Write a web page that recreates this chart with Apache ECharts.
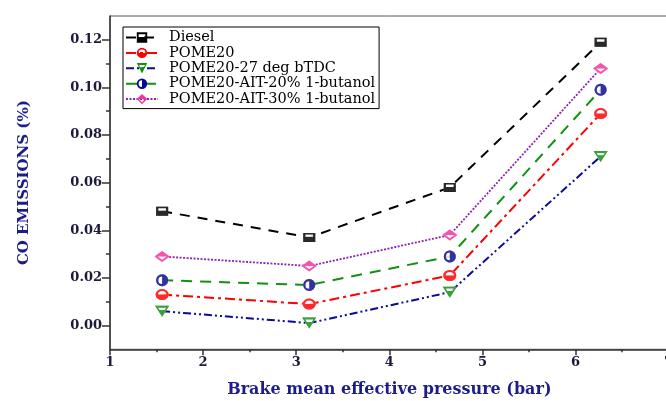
<!DOCTYPE html>
<html>
<head>
<meta charset="utf-8">
<script src="https://cdn.jsdelivr.net/npm/echarts@6/dist/echarts.min.js"></script>
<style>html,body{margin:0;padding:0;background:#fff;}#c{width:666px;height:401px;}</style>
</head>
<body>
<div id="c"></div>
<script>
// ---- data ----
const bmep = [1.56, 3.14, 4.65, 6.27];
const seriesNames = ['Diesel', 'POME20', 'POME20-27 deg bTDC', 'POME20-AIT-20% 1-butanol', 'POME20-AIT-30% 1-butanol'];
const diesel = [0.048, 0.037, 0.058, 0.119];
const pome20 = [0.013, 0.009, 0.021, 0.089];
const pome20_27deg = [0.006, 0.001, 0.014, 0.071];
const pome20_ait20 = [0.019, 0.017, 0.029, 0.099];
const pome20_ait30 = [0.029, 0.025, 0.038, 0.108];
const yMajorTicks = [0, 0.02, 0.04, 0.06, 0.08, 0.10, 0.12];
const yMinorTicks = [0.01, 0.03, 0.05, 0.07, 0.09, 0.11];
const xTitle = 'Brake mean effective pressure (bar)';
const yTitle = 'CO EMISSIONS (%)';

// ---- symbols (half-filled) and their white backgrounds ----
const symSquare = 'path://M0,0H10V10H0Z M1.8,1.8V4.6H8.2V1.8Z';
const bgSquare = 'path://M0,0H10V10H0Z';
const symCircleBottom = 'path://M0,5A5,5 0 1,1 10,5A5,5 0 1,1 0,5Z M1.8,5L8.2,5A3.2,3.2 0 0,0 1.8,5Z';
const bgCircle = 'path://M0,5A5,5 0 1,1 10,5A5,5 0 1,1 0,5Z';
const symTriDown = 'path://M0,0L10,0L5,9Z M2.1,1.6L3.2,3.5L6.8,3.5L7.9,1.6Z';
const bgTriDown = 'path://M0,0L10,0L5,9Z';
const symCircleRight = 'path://M0,5A5,5 0 1,1 10,5A5,5 0 1,1 0,5Z M5,8.2L5,1.8A3.2,3.2 0 0,0 5,8.2Z';
const symDiamondTop = 'path://M5,0L10,5L5,10L0,5Z M2,5L5,8L8,5Z';
const bgDiamond = 'path://M5,0L10,5L5,10L0,5Z';

function pts(ys) { return bmep.map((x, i) => [x, ys[i]]); }

const serif = 'DejaVu Serif';
const chart = echarts.init(document.getElementById('c'), null, {renderer: 'canvas'});

const series = [];
function mk(name, ys, lineColor, dash, lw, sym, bg, symColor, size) {
  series.push({
    name: name, type: 'line', data: pts(ys), z: 2,
    symbol: sym, symbolSize: size, showSymbol: true,
    lineStyle: {color: lineColor, width: lw, type: dash},
    itemStyle: {color: symColor, borderWidth: 0},
    emphasis: {disabled: true}
  });
  series.push({
    name: '_bg_' + name, type: 'scatter', data: pts(ys), z: 3, silent: true,
    symbol: bg, symbolSize: size, itemStyle: {color: '#ffffff'}, emphasis: {disabled: true}
  });
  series.push({
    name: '_fg_' + name, type: 'scatter', data: pts(ys), z: 4, silent: true,
    symbol: sym, symbolSize: size, itemStyle: {color: symColor}, emphasis: {disabled: true}
  });
}
mk(seriesNames[0], diesel, '#000000', [10, 8], 2, symSquare, bgSquare, '#000000', [12, 9]);
mk(seriesNames[1], pome20, '#ff0000', [10, 4, 3, 4], 2, symCircleBottom, bgCircle, '#ff0000', [13, 11]);
mk(seriesNames[2], pome20_27deg, '#0a0a9c', [8, 3, 2, 3, 2, 3], 2, symTriDown, bgTriDown, '#119011', [14, 11]);
mk(seriesNames[3], pome20_ait20, '#119011', [11, 8], 2, symCircleRight, bgCircle, '#0a0a90', [12, 12]);
mk(seriesNames[4], pome20_ait30, '#8a22b8', [2, 1.5], 1.8, symDiamondTop, bgDiamond, '#f0359c', [15, 11]);

chart.setOption({
  animation: false,
  grid: {left: 110, top: 16, width: 558.6, height: 333.3, show: true, borderColor: '#555', borderWidth: 1,
    containLabel: false, outerBoundsMode: 'none'},
  legend: {
    orient: 'vertical', left: 123, top: 27,
    data: seriesNames,
    itemWidth: 32, itemHeight: 13, itemGap: 0.4,
    padding: [3, 4, 2, 2],
    borderColor: '#000', borderWidth: 1, backgroundColor: '#fff',
    textStyle: {fontFamily: serif, fontSize: 14.5, color: '#000', padding: [0, 0, 0, 6], lineHeight: 13}
  },
  xAxis: {
    type: 'value', min: 1, max: 7, interval: 1,
    name: xTitle, nameLocation: 'middle', nameGap: 33,
    nameTextStyle: {fontFamily: serif, fontWeight: 'bold', fontSize: 16, color: '#1c1c8a'},
    axisLine: {onZero: false, lineStyle: {color: '#333', width: 1.5}},
    axisTick: {length: 6, lineStyle: {color: '#333', width: 1.5}},
    minorTick: {show: true, splitNumber: 2, length: 3, lineStyle: {color: '#333', width: 1.5}},
    axisLabel: {fontFamily: serif, fontWeight: 'bold', fontSize: 13, color: '#1a1a3a', margin: 7},
    splitLine: {show: false}
  },
  yAxis: [{
    type: 'value', min: -0.01, max: 0.13,
    name: yTitle, nameLocation: 'middle', nameGap: 78, nameRotate: 90,
    nameTextStyle: {fontFamily: serif, fontWeight: 'bold', fontSize: 15, color: '#1c1c8a'},
    axisLine: {onZero: false, lineStyle: {color: '#333', width: 1.5}},
    axisTick: {length: 8, customValues: yMajorTicks, lineStyle: {color: '#333', width: 1.5}},
    axisLabel: {customValues: yMajorTicks, fontFamily: serif, fontWeight: 'bold', fontSize: 13, color: '#1a1a3a', margin: 8,
      formatter: v => v.toFixed(2)},
    splitLine: {show: false}
  }, {
    type: 'value', min: -0.01, max: 0.13, position: 'left',
    axisLine: {show: false},
    axisTick: {length: 4, customValues: yMinorTicks, lineStyle: {color: '#333', width: 1.5}},
    axisLabel: {show: false},
    splitLine: {show: false}
  }],
  series: series
});
</script>
</body>
</html>
